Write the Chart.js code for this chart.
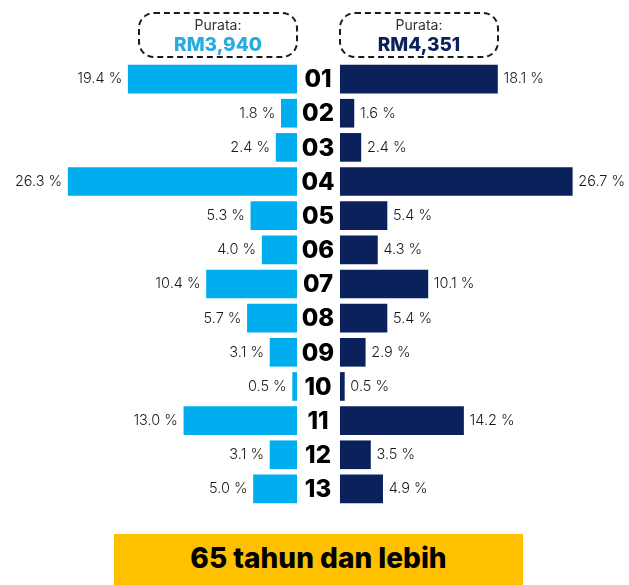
<!DOCTYPE html>
<html>
<head>
<meta charset="utf-8">
<script src="https://cdn.jsdelivr.net/npm/chart.js@4"></script>
<style>
  html, body { margin: 0; padding: 0; background: #fff; }
  #wrap { position: relative; width: 629px; height: 585px; overflow: hidden; font-family: Inter, "Noto Sans", sans-serif; }
  #wrap canvas { position: absolute; left: 0; top: 0; }
  .avg { position: absolute; top: 12px; width: 156px; height: 42px; border: 2px dashed #1a1a1a; border-radius: 16px; text-align: center; }
  .avg .lbl { font-size: 14px; color: #333; margin-top: 2px; line-height: 18px; }
  .avg .val { font-size: 19px; font-weight: 800; line-height: 22px; }
  #title { position: absolute; left: 114px; top: 534px; width: 409px; height: 51px; background: #ffc000; color: #000; font-size: 28px; font-weight: 800; text-align: center; line-height: 48px; }
</style>
</head>
<body>
<div id="wrap">
  <canvas id="leftChart" width="629" height="585"></canvas>
  <canvas id="rightChart" width="629" height="585"></canvas>
  <div class="avg" style="left:138px"><div class="lbl">Purata:</div><div class="val" style="color:#29abe2">RM3,940</div></div>
  <div class="avg" style="left:339px"><div class="lbl">Purata:</div><div class="val" style="color:#0a215c">RM4,351</div></div>
  <div id="title">65 tahun dan lebih</div>
</div>
<script>
const categories = ['01', '02', '03', '04', '05', '06', '07', '08', '09', '10', '11', '12', '13'];
const leftValues = [19.4, 1.8, 2.4, 26.3, 5.3, 4.0, 10.4, 5.7, 3.1, 0.5, 13.0, 3.1, 5.0];
const rightValues = [18.1, 1.6, 2.4, 26.7, 5.4, 4.3, 10.1, 5.4, 2.9, 0.5, 14.2, 3.5, 4.9];

const LEFT_COLOR = '#00aeef';
const RIGHT_COLOR = '#0a215c';

// value labels next to the bar ends
const valueLabels = {
    id: 'valueLabels',
    afterDatasetsDraw(chart, args, opts) {
        const ctx = chart.ctx;
        const meta = chart.getDatasetMeta(0);
        ctx.save();
        ctx.font = '300 14.5px Inter, "Noto Sans", sans-serif';
        ctx.fillStyle = '#1a1a1a';
        ctx.textBaseline = 'middle';
        ctx.textAlign = opts.side === 'left' ? 'right' : 'left';
        meta.data.forEach((bar, i) => {
            const v = chart.data.datasets[0].data[i];
            const x = opts.side === 'left' ? bar.x - 6 : bar.x + 6;
            ctx.fillText(v.toFixed(1) + ' %', x, bar.y);
        });
        ctx.restore();
    }
};

// category codes in the gap between the two sides
const centerLabels = {
    id: 'centerLabels',
    afterDraw(chart) {
        const ctx = chart.ctx;
        const y = chart.scales.y;
        ctx.save();
        ctx.font = '800 24px Inter, "Noto Sans", sans-serif';
        ctx.fillStyle = '#000';
        ctx.textAlign = 'center';
        ctx.textBaseline = 'middle';
        chart.data.labels.forEach((lab, i) => {
            ctx.fillText(lab, 318, y.getPixelForValue(i) + 1);
        });
        ctx.restore();
    }
};

function makeSide(id, values, color, side) {
    const isLeft = side === 'left';
    return new Chart(document.getElementById(id), {
        type: 'bar',
        data: {
            labels: categories,
            datasets: [{
                data: values,
                backgroundColor: color,
                barThickness: 28
            }]
        },
        options: {
            indexAxis: 'y',
            responsive: false,
            animation: false,
            layout: {
                padding: isLeft
                    ? { left: 0, right: 332, top: 62, bottom: 79 }
                    : { left: 340, right: 0, top: 62, bottom: 79 }
            },
            scales: {
                x: { display: false, reverse: isLeft, min: 0, max: isLeft ? 297 / 8.7 : 289 / 8.7 },
                y: { display: false }
            },
            plugins: {
                legend: { display: false },
                tooltip: { enabled: false },
                valueLabels: { side: side }
            }
        },
        plugins: isLeft ? [valueLabels, centerLabels] : [valueLabels]
    });
}

makeSide('leftChart', leftValues, LEFT_COLOR, 'left');
makeSide('rightChart', rightValues, RIGHT_COLOR, 'right');
</script>
</body>
</html>
